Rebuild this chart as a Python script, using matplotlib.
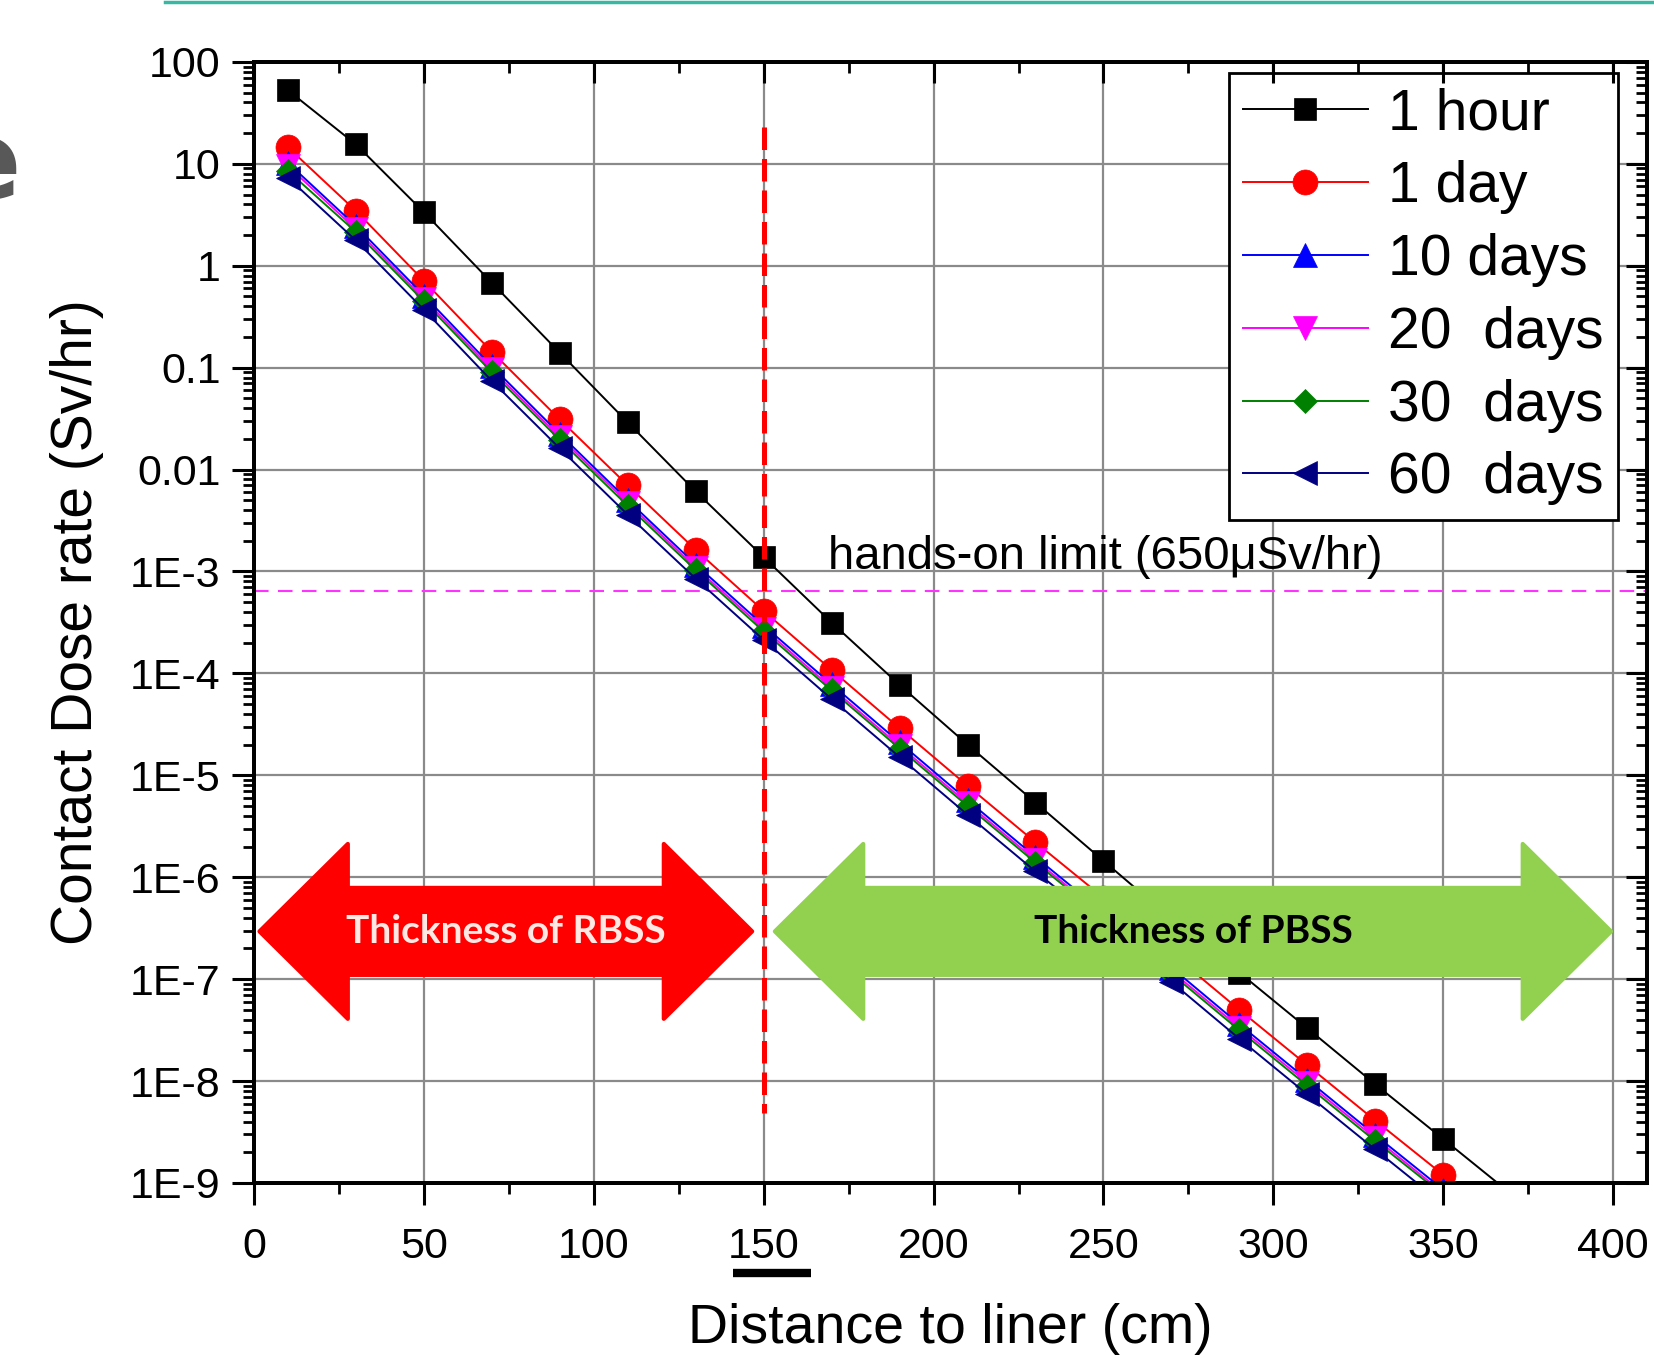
import matplotlib

matplotlib.use("Agg")
import matplotlib.pyplot as plt
import matplotlib.transforms as mtransforms
from matplotlib.lines import Line2D
from matplotlib.patches import Polygon
from matplotlib.ticker import FixedLocator, FixedFormatter, LogLocator, NullFormatter

plt.rcParams["font.family"] = ["Liberation Sans", "DejaVu Sans"]

# distance to liner (cm); the last point lies outside the plotted range
distance = [10, 30, 50, 70, 90, 110, 130, 150, 170, 190, 210, 230, 250, 270, 290, 310, 330, 350, 370]

dose_1hour = [52.6, 15.5, 3.35, 0.68, 0.14, 0.029, 6.1e-3, 1.38e-3, 3.15e-4, 7.7e-5, 2.0e-5,
              5.4e-6, 1.45e-6, 3.9e-7, 1.16e-7, 3.3e-8, 9.3e-9, 2.7e-9, 7.8e-10]
dose_1day = [14.5, 3.45, 0.71, 0.143, 0.031, 7.0e-3, 1.63e-3, 4.1e-4, 1.08e-4, 2.9e-5, 7.9e-6,
             2.2e-6, 6.3e-7, 1.8e-7, 5.0e-8, 1.43e-8, 4.1e-9, 1.2e-9, 3.5e-10]
dose_10days = [10.2, 2.45, 0.51, 0.103, 0.0223, 5.0e-3, 1.17e-3, 2.95e-4, 7.8e-5, 2.1e-5, 5.7e-6,
               1.58e-6, 4.5e-7, 1.3e-7, 3.6e-8, 1.03e-8, 2.95e-9, 8.6e-10, 2.5e-10]
dose_20days = [9.5, 2.28, 0.475, 0.096, 0.0208, 4.7e-3, 1.09e-3, 2.75e-4, 7.2e-5, 1.94e-5, 5.3e-6,
               1.47e-6, 4.2e-7, 1.2e-7, 3.35e-8, 9.6e-9, 2.75e-9, 8.0e-10, 2.35e-10]
dose_30days = [8.5, 2.14, 0.447, 0.090, 0.0195, 4.4e-3, 1.03e-3, 2.58e-4, 6.8e-5, 1.83e-5, 5.0e-6,
               1.39e-6, 4.0e-7, 1.13e-7, 3.15e-8, 9.0e-9, 2.58e-9, 7.6e-10, 2.2e-10]
dose_60days = [7.3, 1.77, 0.37, 0.074, 0.0161, 3.6e-3, 8.5e-4, 2.13e-4, 5.6e-5, 1.51e-5, 4.1e-6,
               1.14e-6, 3.3e-7, 9.4e-8, 2.6e-8, 7.4e-9, 2.13e-9, 6.2e-10, 1.8e-10]

series_labels = ["1 hour", "1 day", "10 days", "20  days", "30  days", "60  days"]
series_values = [dose_1hour, dose_1day, dose_10days, dose_20days, dose_30days, dose_60days]

y_tick_values = [1e-9, 1e-8, 1e-7, 1e-6, 1e-5, 1e-4, 1e-3, 0.01, 0.1, 1, 10, 100]
y_tick_labels = ["1E-9", "1E-8", "1E-7", "1E-6", "1E-5", "1E-4", "1E-3", "0.01", "0.1", "1", "10", "100"]
x_major = [0, 50, 100, 150, 200, 250, 300, 350, 400]
x_minor = [25, 75, 125, 175, 225, 275, 325, 375]

hands_on_limit = 6.5e-4
interface = 150
rbss_span = (1.6, 146.6)
pbss_span = (153.3, 399.4)

styles = [
    dict(color="black", marker="s", ms=16),
    dict(color="#ff0000", marker="o", ms=18),
    dict(color="#0000ff", marker="^", ms=17),
    dict(color="#ff00ff", marker="v", ms=17),
    dict(color="#008000", marker="D", ms=12),
    dict(color="#000080", marker="<", ms=17),
]

fig = plt.figure(figsize=(16.54, 13.58), dpi=100)
ax = fig.add_axes([0.1536, 0.1289, 0.8422, 0.8255])

for label, values, st in zip(series_labels, series_values, styles):
    ax.plot(distance, values, label=label, color=st["color"], lw=1.4,
            marker=st["marker"], ms=st["ms"], mec=st["color"], mew=0.5, zorder=3)

ax.set_yscale("log")
ax.set_xlim(0, 410)
ax.set_ylim(1e-9, 100)

ax.yaxis.set_major_locator(FixedLocator(y_tick_values))
ax.yaxis.set_major_formatter(FixedFormatter(y_tick_labels))
ax.yaxis.set_minor_locator(LogLocator(base=10, subs=range(2, 10), numticks=30))
ax.yaxis.set_minor_formatter(NullFormatter())
ax.xaxis.set_major_locator(FixedLocator(x_major))
ax.xaxis.set_minor_locator(FixedLocator(x_minor))

ax.grid(True, which="major", color="#8a8a8a", lw=1.6)
ax.set_axisbelow(True)
ax.tick_params(which="major", direction="out", length=16, width=2.2, labelsize=31, pad=8)
ax.tick_params(axis="x", which="major", pad=16)
ax.tick_params(which="minor", direction="out", length=8, width=2.0)
for sp in ax.spines.values():
    sp.set_linewidth(2.6)

# mirrored ticks pointing inwards on top and right
ax_top = ax.twiny()
ax_top.set_xlim(ax.get_xlim())
ax_top.xaxis.set_major_locator(FixedLocator(x_major))
ax_top.xaxis.set_minor_locator(FixedLocator(x_minor))
ax_top.tick_params(which="major", direction="in", length=15, width=2.2, labeltop=False)
ax_top.tick_params(which="minor", direction="in", length=8, width=2.0)
ax_right = ax.twinx()
ax_right.set_yscale("log")
ax_right.set_ylim(ax.get_ylim())
ax_right.yaxis.set_major_locator(FixedLocator(y_tick_values))
ax_right.yaxis.set_minor_locator(LogLocator(base=10, subs=range(2, 10), numticks=30))
ax_right.tick_params(which="major", direction="in", length=15, width=2.2, labelright=False)
ax_right.tick_params(which="minor", direction="in", length=8, width=2.0, labelright=False)
for twin in (ax_top, ax_right):
    for sp in twin.spines.values():
        sp.set_linewidth(2.6)

ax.set_xlabel("Distance to liner (cm)", fontsize=40)
ax.xaxis.set_label_coords(0.5, -0.107)
ax.set_ylabel("Contact Dose rate (Sv/hr)", fontsize=41)
ax.yaxis.set_label_coords(-0.108, 0.5)

# reference lines
ax.axhline(hands_on_limit, color="#ff33ff", lw=1.5, dashes=(7, 4.5), zorder=2)
ax.plot([interface, interface], [23, 4.9e-9], color="#ff0000", lw=3.6, dashes=(4.5, 1.8), zorder=6)
ax.text(169, 1.39e-3, "hands-on limit (650\u03bcSv/hr)", fontsize=34, ha="left", va="center", zorder=4)

# thickness arrows: x in data units, y in axes fraction
blend = mtransforms.blended_transform_factory(ax.transData, ax.transAxes)
y_mid, half_head, half_shaft, head_len = 0.2244, 0.078, 0.0388, 26


def double_arrow(x0, x1, color):
    verts = [
        (x0, y_mid), (x0 + head_len, y_mid + half_head), (x0 + head_len, y_mid + half_shaft),
        (x1 - head_len, y_mid + half_shaft), (x1 - head_len, y_mid + half_head), (x1, y_mid),
        (x1 - head_len, y_mid - half_head), (x1 - head_len, y_mid - half_shaft),
        (x0 + head_len, y_mid - half_shaft), (x0 + head_len, y_mid - half_head),
    ]
    poly = Polygon(verts, closed=True, transform=blend, facecolor=color, edgecolor=color,
                   lw=3, joinstyle="round", zorder=5)
    ax.add_patch(poly)


double_arrow(*rbss_span, "#ff0000")
double_arrow(*pbss_span, "#92d050")
ax.text(sum(rbss_span) / 2, y_mid, "Thickness of RBSS", transform=blend, ha="center", va="center",
        fontsize=28, fontweight="bold", family=["Lato", "DejaVu Sans"], color="#fde8e4", zorder=7)
ax.text(sum(pbss_span) / 2 + 0.2, y_mid, "Thickness of PBSS", transform=blend, ha="center", va="center",
        fontsize=28, fontweight="bold", family=["Lato", "DejaVu Sans"], color="black", zorder=7)

# underline below the 150 tick label
ax.plot([141, 164], [-0.0803, -0.0803], transform=blend, color="black", lw=6, clip_on=False,
        solid_capstyle="butt")

leg = ax.legend(loc="upper right", bbox_to_anchor=(0.979, 0.99), borderaxespad=0, fontsize=41,
                handlelength=2.2, handletextpad=0.35, labelspacing=0.33, borderpad=0.25,
                fancybox=False, framealpha=1, edgecolor="black")
leg.get_frame().set_linewidth(2)
leg.set_zorder(10)

# slide leftovers around the figure
fig.add_artist(Line2D([165 / 1654, 1], [1 - 1.5 / 1358] * 2, color="#38b8a2", lw=2.5))
fig.text(21 / 1654, 1 - 168 / 1358, "e", ha="right", va="center", fontsize=78,
         fontweight="bold", color="#585858", family="DejaVu Sans")

fig.savefig("out.png", dpi=100)
